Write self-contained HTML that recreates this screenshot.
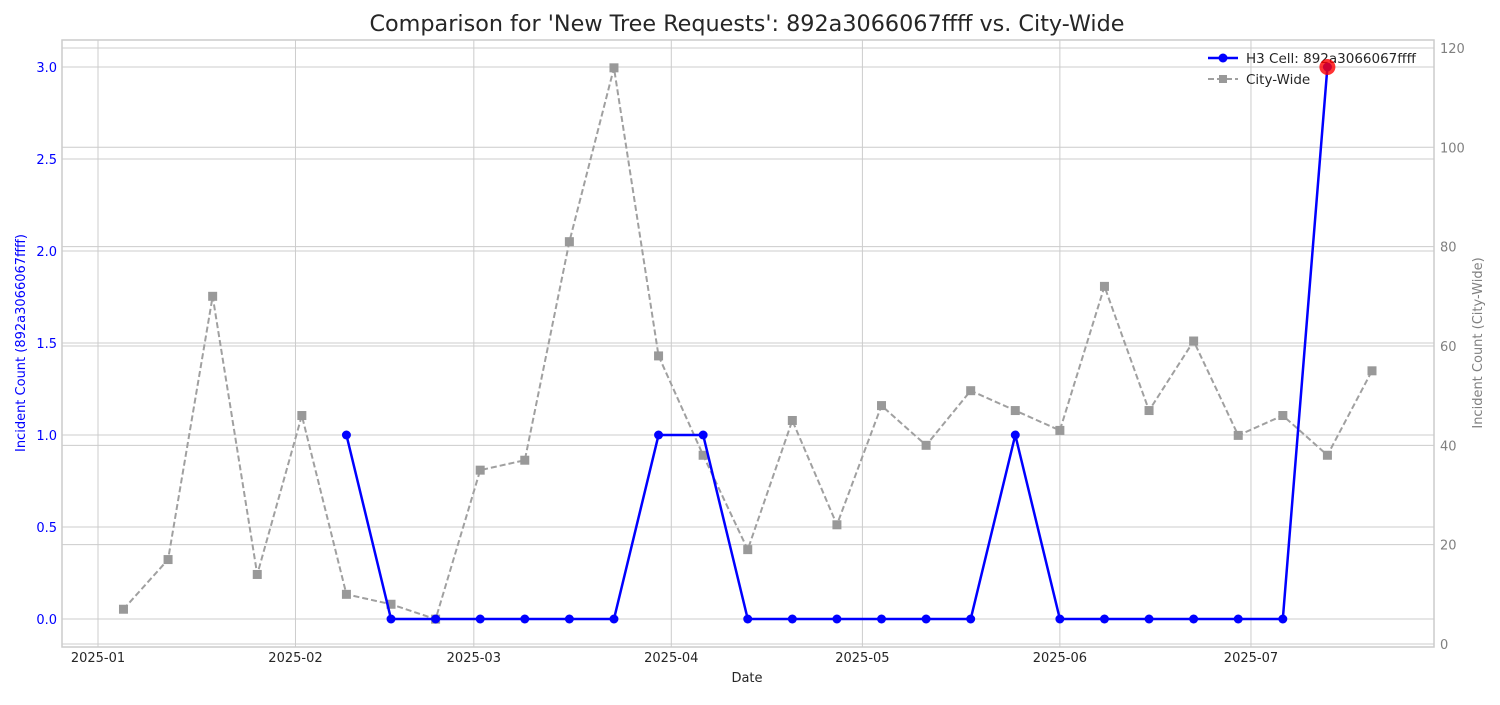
<!DOCTYPE html>
<html><head><meta charset="utf-8"><style>
body{margin:0;background:#fff;font-family:"Liberation Sans","DejaVu Sans",sans-serif}
svg text{font-family:"DejaVu Sans","Liberation Sans",sans-serif}
</style></head><body>
<svg id="c" width="1500" height="700" xmlns="http://www.w3.org/2000/svg"></svg>
<script>
const weekStartDay = 4; // Jan 5, 2025 (days since Jan 1)
const cityValues = [7,17,70,14,46,10,8,5,35,37,81,116,58,38,19,45,24,48,40,51,47,43,72,47,61,42,46,38,55];
const cellStartIndex = 5;
const cellValues = [1,0,0,0,0,0,0,1,1,0,0,0,0,0,0,1,0,0,0,0,0,0,3];
const monthLabels = ['2025-01','2025-02','2025-03','2025-04','2025-05','2025-06','2025-07'];
const monthDays = [0,31,59,90,120,151,181];
const leftTicks = [0,0.5,1,1.5,2,2.5,3];
const rightTicks = [0,20,40,60,80,100,120];

const NS='http://www.w3.org/2000/svg', svg=document.getElementById('c');
function el(t,a,p){const e=document.createElementNS(NS,t);for(const k in a)e.setAttribute(k,a[k]);(p||svg).appendChild(e);return e;}
const L=62,R=1434,T=40,B=647;
const x=d=>98+d*6.37;
const yL=v=>619-v*184;
const yR=v=>644-v*4.967;

let g=el('g',{});


monthDays.forEach(d=>el('line',{x1:x(d),x2:x(d),y1:T,y2:B,stroke:'#cccccc','stroke-width':1},g));
leftTicks.forEach(v=>el('line',{x1:L,x2:R,y1:yL(v),y2:yL(v),stroke:'#cccccc','stroke-width':1},g));
rightTicks.forEach(v=>el('line',{x1:L,x2:R,y1:yR(v),y2:yR(v),stroke:'#cccccc','stroke-width':1},g));
let fr=el('rect',{x:L,y:T,width:R-L,height:B-T,fill:'none',stroke:'#cccccc','stroke-width':1.5});



let t=el('text',{x:747,y:31,'text-anchor':'middle','font-size':22.3,fill:'#262626'});
t.textContent="Comparison for 'New Tree Requests': 892a3066067ffff vs. City-Wide";



monthLabels.forEach((m,i)=>{const e=el('text',{x:x(monthDays[i]),y:662,'text-anchor':'middle','font-size':13,fill:'#262626'});e.textContent=m;

});
leftTicks.forEach(v=>{const e=el('text',{x:57,y:yL(v)+5,'text-anchor':'end','font-size':13,fill:'#0000ff'});e.textContent=v.toFixed(1);

});
rightTicks.forEach(v=>{const e=el('text',{x:1440,y:yR(v)+5,'text-anchor':'start','font-size':13,fill:'#808080'});e.textContent=v;

});
let xl=el('text',{x:747,y:682,'text-anchor':'middle','font-size':13,fill:'#262626'});xl.textContent='Date';


let yl=el('text',{x:0,y:0,transform:'translate(25,343) rotate(-90)','text-anchor':'middle','font-size':13,fill:'#0000ff'});yl.textContent='Incident Count (892a3066067ffff)';


let yr=el('text',{x:0,y:0,transform:'translate(1482,343) rotate(-90)','text-anchor':'middle','font-size':13,fill:'#808080'});yr.textContent='Incident Count (City-Wide)';



// legend (behind series)
let lg=el('g',{});


el('line',{x1:1208,x2:1238,y1:58,y2:58,stroke:'#0000ff','stroke-width':2.5},lg);
el('circle',{cx:1223,cy:58,r:4.5,fill:'#0000ff'},lg);
let l1=el('text',{x:1246,y:63,'font-size':13.5,fill:'#262626'},lg);l1.textContent='H3 Cell: 892a3066067ffff';
el('line',{x1:1208,x2:1238,y1:79,y2:79,stroke:'#a0a0a0','stroke-width':2,'stroke-dasharray':'6,3'},lg);
el('rect',{x:1219,y:75,width:8,height:8,fill:'#999999'},lg);
let l2=el('text',{x:1246,y:84,'font-size':13.5,fill:'#262626'},lg);l2.textContent='City-Wide';

// city-wide
const cpts=cityValues.map((v,i)=>[x(weekStartDay+7*i),yR(v)]);
let cl=el('polyline',{points:cpts.map(p=>p.join(',')).join(' '),fill:'none',stroke:'#a0a0a0','stroke-width':2,'stroke-dasharray':'6,3'});


cpts.forEach(p=>{const r=el('rect',{x:p[0]-4,y:p[1]-4,width:8,height:8,fill:'#999999',stroke:'#999999'});

});

// cell
const hpts=cellValues.map((v,i)=>[x(weekStartDay+7*(cellStartIndex+i)),yL(v)]);
let hl=el('polyline',{points:hpts.map(p=>p.join(',')).join(' '),fill:'none',stroke:'#0000ff','stroke-width':2.5});


hpts.forEach(p=>{const c=el('circle',{cx:p[0],cy:p[1],r:4.5,fill:'#0000ff'});

});
const lp=hpts[hpts.length-1];
let hi=el('circle',{cx:lp[0],cy:lp[1],r:8,fill:'#ff0000','fill-opacity':0.8});


</script>
</body></html>
